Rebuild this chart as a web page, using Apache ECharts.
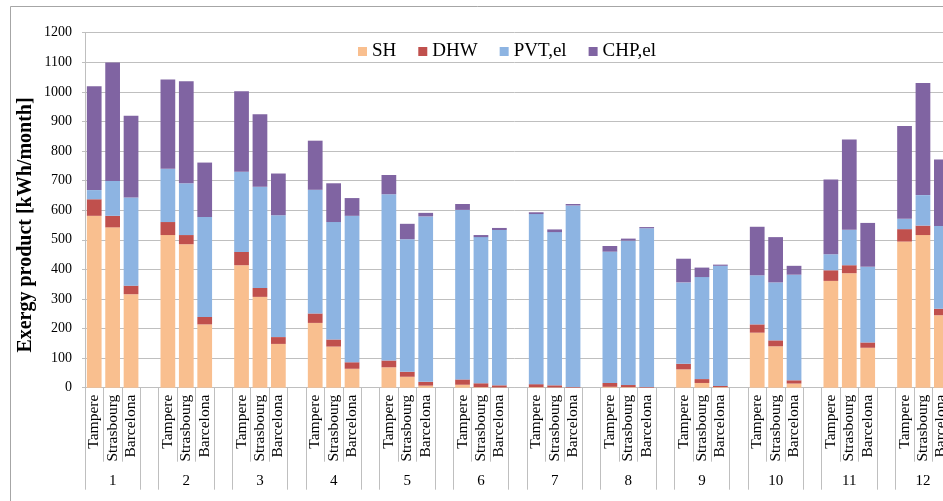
<!DOCTYPE html>
<html><head><meta charset="utf-8">
<script src="https://cdn.jsdelivr.net/npm/echarts@6/dist/echarts.min.js"></script>
<style>html,body{margin:0;padding:0;background:#fff}#c{width:943px;height:501px}</style>
</head><body><div id="c"></div>
<script>
const months = ['1','2','3','4','5','6','7','8','9','10','11','12'];
const cities = ['Tampere','Strasbourg','Barcelona'];
const seriesNames = ['SH','DHW','PVT,el','CHP,el'];
const yMin = 0, yMax = 1200, yStep = 100;
// values per month: Tampere, Strasbourg, Barcelona
const SH  = [581,542,316, 516,485,214, 414,307,148, 219,139,64, 69,37,7, 10,2,1, 2,1,0, 3,2,0, 62,16,2, 186,140,14, 361,387,135, 494,516,245];
const DHW = [56,39,29, 44,31,25, 45,30,23, 32,24,22, 23,17,13, 18,13,7, 10,7,2, 13,7,2, 19,13,4, 28,20,11, 36,27,18, 42,32,22];
const PVT = [31,118,298, 180,175,338, 271,342,412, 418,397,495, 562,448,559, 573,494,525, 575,518,614, 444,488,537, 275,345,406, 166,196,357, 54,120,256, 35,103,280];
const CHP = [351,400,276, 302,345,184, 272,245,141, 166,131,60, 65,52,12, 20,7,7, 6,9,5, 19,7,4, 80,32,4, 164,153,30, 253,305,148, 314,379,224];
const colors = ['#F9BF8F','#C0504D','#8DB4E2','#8064A2'];

// build slots: 3 cities + 1 blank slot per month
const keys = [], labels = [];
months.forEach((m) => {
  cities.forEach(c => { keys.push(m + '|' + c); labels.push(c); });
  keys.push(m + '|gap'); labels.push('');
});
function toSlots(arr) {
  const out = [];
  for (let m = 0; m < months.length; m++) {
    for (let k = 0; k < 3; k++) out.push(arr[m * 3 + k]);
    out.push(null);
  }
  return out;
}
const grey = '#bfbfbf';
const serif = '"Liberation Serif", "Times New Roman", serif';
const chart = echarts.init(document.getElementById('c'));
chart.setOption({
  animation: false,
  backgroundColor: '#fff',
  grid: { left: 85, top: 32.7, width: 884, height: 355, containLabel: false, outerBoundsMode: 'none' },
  legend: {
    data: seriesNames, left: 353, top: 37, itemWidth: 9, itemHeight: 9, itemGap: 22, icon: 'rect',
    textStyle: { fontFamily: serif, fontSize: 19, color: '#000' }
  },
  xAxis: [
    {
      type: 'category', data: keys, position: 'bottom', boundaryGap: true,
      axisLine: { show: true, lineStyle: { color: grey } },
      axisTick: { show: true, length: 74, interval: (i) => (i % 4 === 1 || i % 4 === 2), lineStyle: { color: grey } },
      axisLabel: { interval: 0, rotate: 90, margin: 7, fontFamily: serif, fontSize: 15.5, color: '#000',
        formatter: (v, i) => labels[i] },
      splitLine: { show: false }
    },
    {
      type: 'category', data: keys, position: 'bottom', boundaryGap: true,
      axisLine: { show: false },
      axisTick: { show: true, length: 102, interval: (i) => (i % 4 === 0 || i % 4 === 3), lineStyle: { color: grey } },
      axisLabel: { interval: (i) => i % 4 === 1, margin: 86, fontFamily: serif, fontSize: 15, color: '#000',
        formatter: (v, i) => months[Math.floor(i / 4)] },
      splitLine: { show: false }
    }
  ],
  yAxis: {
    type: 'value', min: yMin, max: yMax, interval: yStep,
    axisLine: { show: true, lineStyle: { color: grey } },
    axisTick: { show: true, length: 3, lineStyle: { color: grey } },
    axisLabel: { margin: 13, fontFamily: serif, fontSize: 14, color: '#000', formatter: (v) => String(v) },
    splitLine: { show: true, lineStyle: { color: grey, width: 1 } }
  },
  series: [SH, DHW, PVT, CHP].map((arr, k) => ({
    name: seriesNames[k], type: 'bar', stack: 'total', barCategoryGap: '20%',
    itemStyle: { color: colors[k] }, data: toSlots(arr)
  })),
  graphic: [
    { type: 'rect', shape: { x: 10.5, y: 6.5, width: 1000, height: 1000 },
      style: { fill: 'none', stroke: '#a6a6a6', lineWidth: 1 }, silent: true },
    { type: 'text', x: 26, y: 225, rotation: Math.PI / 2,
      style: { text: 'Exergy product [kWh/month]', fontFamily: serif, fontWeight: 'bold', fontSize: 20,
        fill: '#000', align: 'center', verticalAlign: 'middle', textAlign: 'center', textVerticalAlign: 'middle' } }
  ]
});
</script></body></html>
